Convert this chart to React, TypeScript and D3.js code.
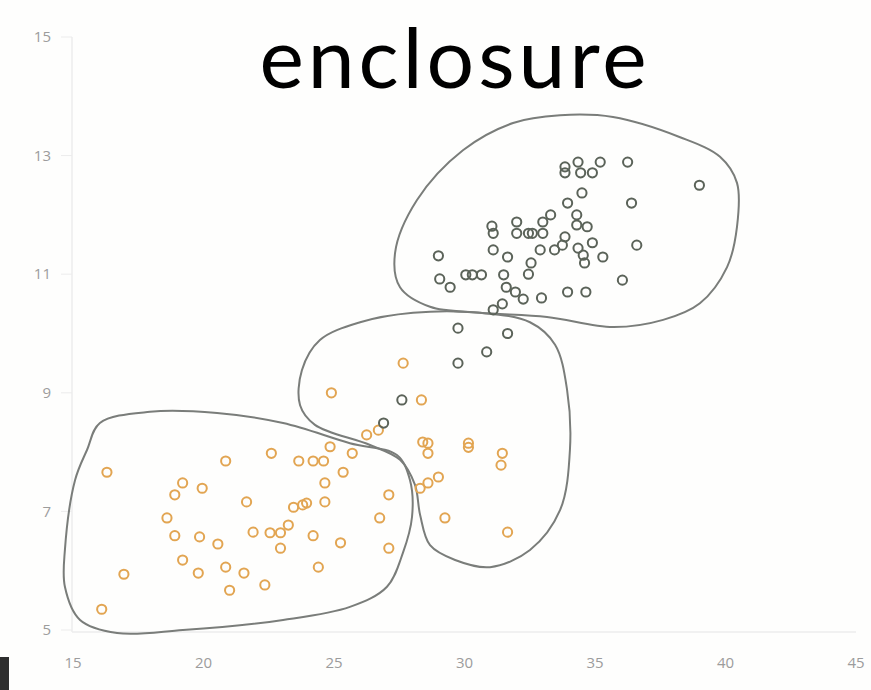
import React from "react";
import * as d3 from "d3";

const W = 871;
const H = 690;

const xTicks = [15, 20, 25, 30, 35, 40, 45];
const yTicks = [5, 7, 9, 11, 13, 15];
const title = "enclosure";

// orange points [x, y]
const orangeX = [16.3, 16.95, 16.1, 20.85, 22.6, 19.2, 18.9, 19.95, 21.65, 18.6, 18.9, 19.85, 20.55, 19.2, 19.8, 20.85, 21.55, 21.0, 22.35, 21.9, 22.55, 22.95, 23.25, 22.95, 23.45, 23.8, 23.95, 24.2, 24.4, 24.65, 24.65, 23.65, 24.2, 24.6, 24.85, 25.35, 25.7, 25.25, 26.75, 27.1, 27.1, 26.25, 26.7, 27.65, 24.9, 28.35, 28.4, 28.6, 28.6, 30.15, 30.15, 31.45, 31.4, 29.0, 28.6, 28.3, 29.25, 31.65];
const orangeY = [7.66, 5.94, 5.35, 7.85, 7.98, 7.48, 7.28, 7.39, 7.16, 6.89, 6.59, 6.57, 6.45, 6.18, 5.96, 6.06, 5.96, 5.67, 5.76, 6.65, 6.64, 6.64, 6.77, 6.38, 7.07, 7.11, 7.14, 6.59, 6.06, 7.48, 7.16, 7.85, 7.85, 7.85, 8.09, 7.66, 7.98, 6.47, 6.89, 7.28, 6.38, 8.29, 8.37, 9.5, 9.0, 8.88, 8.17, 8.15, 7.98, 8.15, 8.08, 7.98, 7.78, 7.58, 7.48, 7.39, 6.89, 6.65];

// dark points
const darkX = [29.75, 30.85, 29.75, 31.65, 27.6, 26.9, 31.1, 31.45, 29.0, 29.05, 29.45, 30.05, 30.3, 30.65, 31.5, 31.6, 31.95, 32.25, 32.95, 33.95, 34.65, 31.05, 31.1, 31.1, 31.65, 32.0, 32.0, 32.45, 32.6, 33.0, 33.0, 33.3, 32.9, 32.55, 32.45, 33.45, 33.75, 33.85, 33.95, 34.3, 34.3, 34.7, 34.35, 34.55, 34.6, 34.9, 35.3, 34.5, 33.85, 33.85, 34.35, 34.45, 34.9, 35.2, 36.25, 36.4, 36.6, 36.05, 39.0];
const darkY = [10.09, 9.69, 9.5, 10.0, 8.88, 8.49, 10.4, 10.5, 11.31, 10.92, 10.78, 10.99, 10.99, 10.99, 10.99, 10.78, 10.7, 10.58, 10.6, 10.7, 10.7, 11.81, 11.69, 11.41, 11.29, 11.88, 11.69, 11.69, 11.69, 11.88, 11.69, 12.0, 11.41, 11.19, 11.0, 11.41, 11.49, 11.63, 12.2, 12.0, 11.83, 11.8, 11.44, 11.32, 11.19, 11.53, 11.29, 12.37, 12.81, 12.71, 12.89, 12.71, 12.71, 12.89, 12.89, 12.2, 11.49, 10.9, 12.5];

// enclosure outlines (data units)
const encl1: [number, number][] = [
  [15.54, 8.04], [16.03, 8.49], [17.95, 8.68], [20.52, 8.66], [23.05, 8.49], [25.61, 8.15], [27.41, 7.95], [27.91, 7.53], [27.99, 6.91], [27.64, 6.3], [27.03, 5.73], [25.61, 5.39], [23.05, 5.17], [19.21, 5.0], [16.69, 4.95], [15.27, 5.17], [14.69, 5.73], [14.69, 6.35], [15.08, 7.53],
];
const encl2: [number, number][] = [
  [24.46, 9.89], [26.0, 10.19], [28.03, 10.35], [30.59, 10.35], [32.51, 10.19], [33.47, 9.81], [33.93, 9.05], [34.04, 8.04], [33.66, 7.02], [32.51, 6.35], [30.98, 6.06], [29.64, 6.18], [28.68, 6.43], [28.3, 6.94], [28.1, 7.45], [27.53, 7.87], [26.38, 8.12], [24.27, 8.46], [23.7, 8.79], [23.77, 9.38],
];
const encl3: [number, number][] = [
  [31.86, 13.55], [33.66, 13.68], [35.69, 13.65], [38.26, 13.31], [39.79, 12.98], [40.44, 12.54], [40.44, 11.8], [40.06, 11.12], [39.02, 10.51], [37.61, 10.23], [35.69, 10.11], [33.16, 10.28], [30.59, 10.35], [28.68, 10.45], [27.53, 10.78], [27.34, 11.36], [28.18, 12.25], [29.94, 13.09],
];

export default function App() {
  const x = d3.scaleLinear().domain([15, 45]).range([73, 856]);
  const y = d3.scaleLinear().domain([5, 15]).range([630, 37]);
  const line = d3
    .line<[number, number]>()
    .x((d) => x(d[0]))
    .y((d) => y(d[1]))
    .curve(d3.curveCatmullRomClosed.alpha(0.5));

  const tickFont = "'Open Sans', sans-serif";

  return (
    <svg
      width={W}
      height={H}
      style={{ position: "absolute", left: 0, top: 0, background: "#fefefe" }}
    >
      <rect x={0} y={0} width={W} height={H} fill="#fefefd" />
      {/* axes */}
      <line x1={x(15) - 1} x2={x(15) - 1} y1={y(15)} y2={y(5) + 2} stroke="#ececec" strokeWidth={1.5} />
      <line x1={x(15) - 1} x2={x(45)} y1={y(5) + 2} y2={y(5) + 2} stroke="#ececec" strokeWidth={1.5} />
      {yTicks.map((t) => (
        <g key={"y" + t}>
          <line x1={x(15) - 12} x2={x(15) - 1} y1={y(t)} y2={y(t)} stroke="#ececec" strokeWidth={1} />
          <text
            x={51}
            y={y(t)}
            dy="0.35em"
            textAnchor="end"
            fontFamily={tickFont}
            fontSize={15}
            fill="#9c9c9c"
          >
            {t}
          </text>
        </g>
      ))}
      {xTicks.map((t) => (
        <text
          key={"x" + t}
          x={x(t)}
          y={663}
          dy="0.35em"
          textAnchor="middle"
          fontFamily={tickFont}
          fontSize={15}
          fill="#9c9c9c"
        >
          {t}
        </text>
      ))}

      {/* enclosures */}
      {[encl1, encl2, encl3].map((e, i) => (
        <path key={"e" + i} d={line(e) || ""} fill="none" stroke="#7a7d7a" strokeWidth={2} />
      ))}

      {/* points */}
      {orangeX.map((v, i) => (
        <circle
          key={"o" + i}
          cx={x(v)}
          cy={y(orangeY[i])}
          r={4.6}
          fill="none"
          stroke="#e2a552"
          strokeWidth={2}
        />
      ))}
      {darkX.map((v, i) => (
        <circle
          key={"d" + i}
          cx={x(v)}
          cy={y(darkY[i])}
          r={4.6}
          fill="none"
          stroke="#5b6359"
          strokeWidth={2}
        />
      ))}

      {/* title */}
      <text
        x={455}
        y={88}
        textAnchor="middle"
        fontFamily="Lato, 'Open Sans', sans-serif"
        fontSize={84}
        letterSpacing={4}
        fill="#000"
      >
        {title}
      </text>

      <rect x={0} y={657} width={9} height={33} fill="#2e2e2e" />
    </svg>
  );
}
